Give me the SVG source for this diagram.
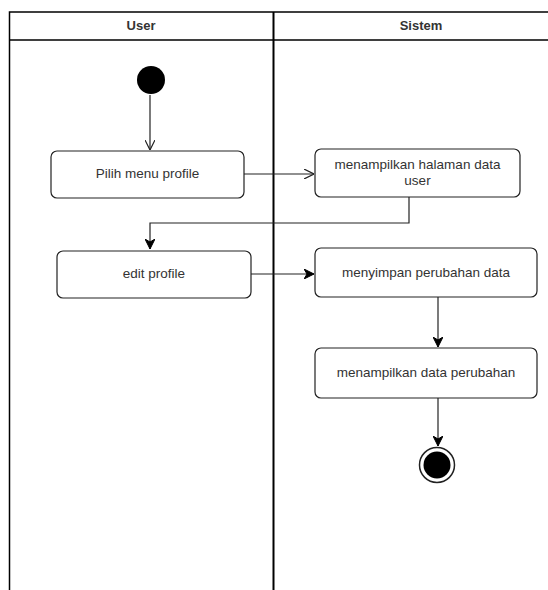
<svg xmlns="http://www.w3.org/2000/svg" width="548" height="590" viewBox="0 0 548 590">
<style>
.lane{fill:none;stroke:#000;stroke-width:1.5}
.box{fill:#fff;stroke:#222;stroke-width:1.2}
.t{font-family:"Liberation Sans",Arial,sans-serif;font-size:13.5px;fill:#333;text-anchor:middle}
.h{font-family:"Liberation Sans",Arial,sans-serif;font-size:13px;font-weight:bold;fill:#333;text-anchor:middle}
.c{fill:none;stroke:#222;stroke-width:1.2}
</style>
<defs>
<marker id="open" viewBox="0 0 10 10" refX="10" refY="5" markerWidth="10" markerHeight="10" markerUnits="userSpaceOnUse" orient="auto">
<path d="M0,0 L10,5 L0,10" fill="none" stroke="#222" stroke-width="1.2"/>
</marker>
<marker id="fill" viewBox="0 0 10 10" refX="10" refY="5" markerWidth="10" markerHeight="10" markerUnits="userSpaceOnUse" orient="auto">
<path d="M0,0 L10,5 L0,10 L3,5 Z" fill="#000" stroke="#000" stroke-width="1"/>
</marker>
</defs>
<rect x="0" y="0" width="548" height="590" fill="#fff"/>
<g id="pool">
<path class="lane" d="M9.5,590 V12 H548 M9.5,40 H548"/>
<path d="M273.5,12 V590" stroke="#000" stroke-width="2"/>
<text class="h" x="141" y="30">User</text>
<text class="h" x="421" y="30">Sistem</text>
</g>
<g id="connectors">
<path class="c" d="M150,95 V150" marker-end="url(#open)"/>
<path class="c" d="M244,174 H314" marker-end="url(#open)"/>
<path class="c" d="M409,197 V223 H150 V249" marker-end="url(#fill)"/>
<path class="c" d="M251,274 H314" marker-end="url(#fill)"/>
<path class="c" d="M438,297 V347" marker-end="url(#fill)"/>
<path class="c" d="M438,398 V446" marker-end="url(#fill)"/>
</g>
<g id="start"><circle cx="151" cy="80" r="14" fill="#000"/></g>
<g id="pilih"><rect class="box" x="51" y="151" width="193" height="47" rx="6"/><text class="t" x="147.5" y="177.5">Pilih menu profile</text></g>
<g id="tampil"><rect class="box" x="315" y="149" width="205" height="48" rx="6"/><text class="t" x="417.5" y="168.5">menampilkan halaman data</text><text class="t" x="417.5" y="185">user</text></g>
<g id="edit"><rect class="box" x="57" y="251" width="194" height="47" rx="6"/><text class="t" x="154" y="278">edit profile</text></g>
<g id="simpan"><rect class="box" x="315" y="248" width="222" height="49" rx="6"/><text class="t" x="426" y="277">menyimpan perubahan data</text></g>
<g id="tampilData"><rect class="box" x="315" y="348" width="222" height="50" rx="6"/><text class="t" x="426" y="377">menampilkan data perubahan</text></g>
<g id="end"><circle cx="437" cy="465" r="17.5" fill="#fff" stroke="#222" stroke-width="1.5"/><circle cx="437" cy="465" r="13.5" fill="#000"/></g>
</svg>
